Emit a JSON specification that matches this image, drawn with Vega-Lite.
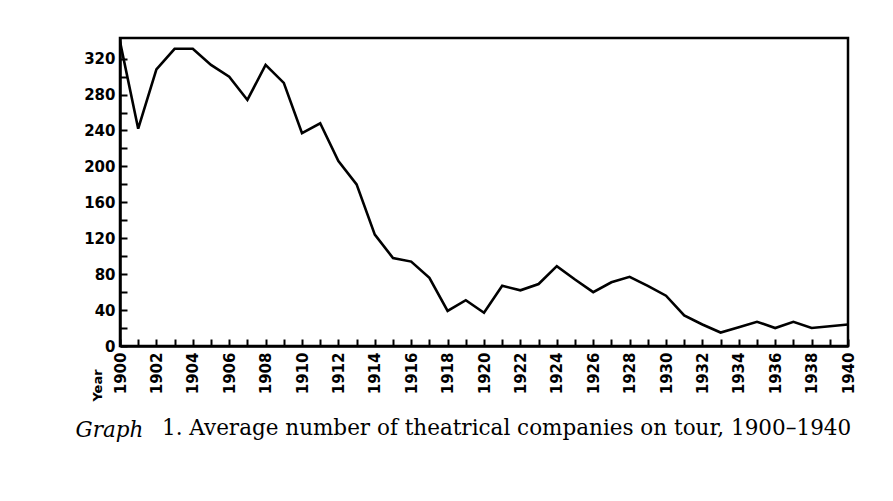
{
  "$schema": "https://vega.github.io/schema/vega-lite/v6.json",
  "width": 728,
  "height": 308,
  "autosize": {"type": "none"},
  "padding": {"left": 120, "top": 38, "right": 45, "bottom": 155},
  "background": "white",
  "title": {
    "text": "1. Average number of theatrical companies on tour, 1900–1940",
    "orient": "top",
    "anchor": "start",
    "frame": "group",
    "baseline": "alphabetic",
    "offset": 0,
    "dx": 42,
    "dy": 418,
    "font": "DejaVu Serif",
    "fontSize": 21.5,
    "fontWeight": "normal",
    "color": "black"
  },
  "config": {
    "view": {"stroke": "black", "strokeWidth": 2.5},
    "axis": {
      "domainColor": "black",
      "domainWidth": 2.5,
      "tickColor": "black",
      "tickWidth": 2,
      "grid": false,
      "labelColor": "black",
      "labelFont": "DejaVu Sans",
      "labelFontWeight": "bold",
      "labelFontSize": 15,
      "titleColor": "black"
    }
  },
  "data": {
    "values": [
      {"year": 1900, "companies": 339},
      {"year": 1901, "companies": 242},
      {"year": 1902, "companies": 308},
      {"year": 1903, "companies": 331},
      {"year": 1904, "companies": 331},
      {"year": 1905, "companies": 313},
      {"year": 1906, "companies": 300},
      {"year": 1907, "companies": 274},
      {"year": 1908, "companies": 313},
      {"year": 1909, "companies": 293},
      {"year": 1910, "companies": 237},
      {"year": 1911, "companies": 248},
      {"year": 1912, "companies": 206},
      {"year": 1913, "companies": 180},
      {"year": 1914, "companies": 124},
      {"year": 1915, "companies": 98},
      {"year": 1916, "companies": 94},
      {"year": 1917, "companies": 76},
      {"year": 1918, "companies": 39},
      {"year": 1919, "companies": 51},
      {"year": 1920, "companies": 37},
      {"year": 1921, "companies": 67},
      {"year": 1922, "companies": 62},
      {"year": 1923, "companies": 69},
      {"year": 1924, "companies": 89},
      {"year": 1925, "companies": 74},
      {"year": 1926, "companies": 60},
      {"year": 1927, "companies": 71},
      {"year": 1928, "companies": 77},
      {"year": 1929, "companies": 67},
      {"year": 1930, "companies": 56},
      {"year": 1931, "companies": 34},
      {"year": 1932, "companies": 24},
      {"year": 1933, "companies": 15},
      {"year": 1934, "companies": 21},
      {"year": 1935, "companies": 27},
      {"year": 1936, "companies": 20},
      {"year": 1937, "companies": 27},
      {"year": 1938, "companies": 20},
      {"year": 1939, "companies": 22},
      {"year": 1940, "companies": 24}
    ]
  },
  "mark": {"type": "line", "color": "black", "strokeWidth": 2.6, "strokeJoin": "miter", "clip": true},
  "encoding": {
    "x": {
      "field": "year",
      "type": "quantitative",
      "scale": {"domain": [1900, 1940], "nice": false, "zero": false},
      "axis": {
        "values": [1900,1901,1902,1903,1904,1905,1906,1907,1908,1909,1910,1911,1912,1913,1914,1915,1916,1917,1918,1919,1920,1921,1922,1923,1924,1925,1926,1927,1928,1929,1930,1931,1932,1933,1934,1935,1936,1937,1938,1939,1940],
        "labelExpr": "datum.value % 2 == 0 ? format(datum.value, 'd') : ''",
        "labelAngle": 270,
        "labelAlign": "right",
        "labelBaseline": "middle",
        "labelOverlap": false,
        "labelFlush": false,
        "labelBound": false,
        "tickSize": -7,
        "labelPadding": 13,
        "title": "Year",
        "titleAngle": 270,
        "titleX": -23,
        "titleY": 39,
        "titleAlign": "center",
        "titleBaseline": "middle",
        "titleFont": "DejaVu Sans",
        "titleFontSize": 13,
        "titleFontWeight": "bold"
      }
    },
    "y": {
      "field": "companies",
      "type": "quantitative",
      "scale": {"domain": [0, 343], "nice": false},
      "axis": {
        "values": [0,20,40,60,80,100,120,140,160,180,200,220,240,260,280,300,320],
        "labelExpr": "datum.value % 40 == 0 ? datum.label : ''",
        "labelOverlap": false,
        "labelFlush": false,
        "labelBound": false,
        "tickSize": -7,
        "labelPadding": 12,
        "title": "Graph",
        "titleAngle": 0,
        "titleX": -45,
        "titleY": 398,
        "titleAlign": "left",
        "titleBaseline": "alphabetic",
        "titleFont": "DejaVu Serif",
        "titleFontSize": 21.5,
        "titleFontStyle": "italic",
        "titleFontWeight": "normal"
      }
    }
  }
}
